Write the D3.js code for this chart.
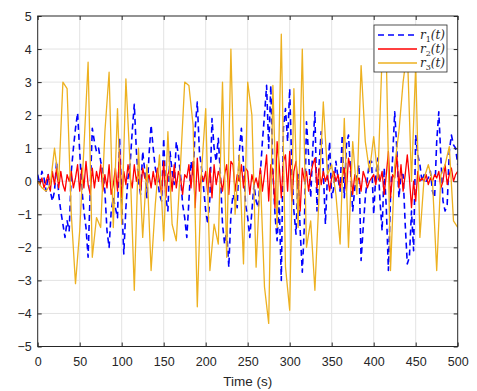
<!DOCTYPE html>
<html>
<head>
<meta charset="utf-8">
<script src="https://cdn.jsdelivr.net/npm/d3@7"></script>
<style>
  body { margin: 0; background: #fff; }
  .axis text, .xlabel { font-family: "Liberation Sans", Arial, Helvetica, sans-serif; }
  .legend text { font-family: "DejaVu Serif", "Liberation Serif", serif; font-style: italic; }
</style>
</head>
<body>
<div id="chart"></div>
<script>
"use strict";

const WIDTH = 477, HEIGHT = 391;
const PLOT = {left: 37.7, right: 457.7, top: 16, bottom: 346.5};

// sample spacing (s) of each series
const R1_STEP = 2.5, R2_STEP = 2.5, R3_STEP = 5;

const xTicks = [0, 50, 100, 150, 200, 250, 300, 350, 400, 450, 500];
const yTicks = [-5, -4, -3, -2, -1, 0, 1, 2, 3, 4, 5];

// r1(t), blue dashed
const r1 = [
  0.2, -0.1, 0.3, 0.1, -0.3, 0.2, -0.3, -0.6, -0.3, 0.6, -0.4, -0.9, -1.3, -1.7, -1.2, -1.5, 0.3, 1.0, 1.6, 2.07,
  0.9, -0.2, -0.9, -1.4, -2.3, -0.3, 1.6, 1.2, 0.9, 1.0, 0.6, 0.3, -0.3, -1.5, -2.0, -0.9, -0.5, -0.8, -1.1, 1.3,
  -0.6, -2.2, -0.8, 0.1, 0.5, 1.5, 2.33, 0.9, 0.0, -0.4, 0.9, 0.3, -0.5, 0.8, 1.7, 1.0, 0.4, 0.1, -0.4, -0.6,
  1.3, -0.5, -0.9, 0.9, 0.3, -0.1, 1.2, 0.8, 0.2, -0.7, -1.1, -1.7, -0.6, 0.6, 0.2, 1.6, 2.4, 0.9, 0.4, -0.2,
  -0.9, -1.3, -0.5, 1.9, 1.0, 0.6, 1.3, 0.2, -1.3, -1.9, -1.5, -2.6, -1.0, -0.4, -0.6, -0.8, 0.9, 1.6, 0.5, -0.7,
  -1.1, -1.7, -0.9, -0.1, -0.6, -0.8, 0.2, 1.2, 2.0, 2.9, 1.0, 2.9, 0.3, -1.0, -1.8, -0.6, -3.0, 1.6, 2.2, 1.2,
  2.8, 0.4, -0.9, -1.6, 0.2, -1.5, -2.75, -1.3, 1.8, 0.8, -0.5, 1.0, 2.1, -0.9, 0.5, 1.5, 0.3, -1.3, 0.2, 1.2,
  -0.5, -0.2, 0.6, 0.1, -0.3, 1.4, -0.5, 1.1, 1.4, 0.3, -0.9, -0.2, 0.2, 0.5, -2.4, -1.4, -0.5, 0.1, 0.6, 0.6,
  -1.0, 0.2, 0.7, -0.6, -1.5, 0.4, -0.8, -2.7, -0.5, 0.7, 2.1, 1.0, -0.5, 0.2, 0.2, -1.3, -2.5, -2.3, -0.9, -2.1,
  1.4, 0.8, 0.5, 0.0, 0.2, 0.0, 0.1, 0.3, -0.3, -0.5, 1.2, 2.1, 0.7, -0.6, -0.9, -0.7, 0.9, 1.4, 1.1, 1.0,
  0.5
];

// r2(t), red
const r2 = [
  0.0, -0.1, 0.1, -0.2, 0.0, 0.2, -0.3, 0.3, -0.1, 0.4, -0.2, 0.3, -0.1, -0.3, 0.2, 0.0, 0.3, -0.2, 0.1, 0.5,
  -0.3, 0.4, -0.2, 0.6, -0.1, -0.4, 0.4, -0.2, 0.3, 0.0, 0.5, -0.3, 0.2, -0.2, 0.5, -0.4, -0.1, 0.4, -0.3, 0.9,
  -0.5, 0.3, -0.1, 0.5, 0.1, -0.2, 0.5, 0.0, 0.3, -0.3, 0.4, 0.1, 0.0, 0.2, -0.2, 0.3, -0.1, 0.4, 0.0, -0.4,
  0.6, -0.5, 0.2, 0.4, -0.3, 0.5, -0.2, 0.3, 0.1, -0.4, 0.2, 0.1, 0.5, -0.2, 0.6, -0.8, 0.7, -0.3, 0.2, 0.0,
  0.3, -0.4, 0.4, -0.5, 0.5, -0.1, 0.3, 0.1, -0.3, 0.2, 0.5, -0.4, 0.6, 0.5, -0.3, 0.2, 0.0, 0.5, -0.2, 0.4,
  0.3, -0.4, 0.2, -0.1, 0.1, -0.2, 0.4, -0.3, 0.2, 0.8, -0.6, 0.5, 0.3, -0.8, 1.2, 0.5, -0.5, 0.6, 0.8, -0.3,
  0.9, -0.6, 0.3, 0.6, -0.1, -0.9, 0.4, 0.0, 0.3, -0.3, 0.2, 0.5, 0.7, -0.2, 0.4, -0.1, 0.3, 0.0, 0.2, -0.3,
  0.1, 0.3, 0.0, 0.2, -0.2, 0.1, 0.4, -0.3, 0.7, 0.4, -0.4, 0.2, 0.0, 0.1, -0.3, 0.3, 0.1, -0.2, 0.0, 0.1,
  0.2, -0.1, 0.3, 0.0, 0.3, -0.4, 0.2, 0.9, -0.5, 0.2, 0.1, 0.8, -0.2, 0.5, -0.3, 0.2, 0.8, 0.1, -0.8, 0.0,
  -0.6, 0.3, 0.0, 0.1, 0.0, 0.2, -0.1, 0.1, 0.0, 0.2, 0.1, 0.3, -0.2, 0.0, 0.5, -0.1, 0.2, 0.4, 0.0, 0.2,
  0.3
];

// r3(t), orange
const r3 = [
  0.0, -0.2, -0.3, -0.1, 1.0, 0.0, 3.0, 2.8, -1.0, -3.1,
  -1.5, 1.0, 3.6, -2.3, -1.1, -1.4, 1.5, 3.3, -1.4, 2.2,
  -1.3, 3.1, 0.5, -3.3, 1.0, -1.7, 0.5, -2.7, -0.7, 0.8,
  -1.8, 1.5, -1.3, -1.8, 0.5, 3.0, 2.9, 1.7, -3.8, 0.3,
  2.2, -2.7, -1.3, -1.9, 3.0, -2.3, 4.0, -1.0, 0.8, -2.5,
  3.0, 2.0, -2.6, 0.2, -3.2, -4.3, 2.9, -1.4, 4.45, -2.6,
  -3.9, 2.8, -1.4, 4.0, -2.0, -1.2, -3.3, -0.4, 2.4, 0.2,
  0.5, -0.4, -1.9, 1.9, -2.0, 1.2, -0.4, 3.5, 1.2, 0.3,
  1.35, 0.1, 3.8, 3.8, -2.7, 0.5, 1.5, 3.0, 4.0, 0.0,
  3.5, -1.7, 0.1, 0.5, 0.0, -2.7, 0.2, 0.5, 1.05, -1.2,
  -1.4
];

const series = [
  {name: "1", values: r1, step: R1_STEP, color: "#0000ff", width: 1.6, dash: "6,4"},
  {name: "2", values: r2, step: R2_STEP, color: "#ff0000", width: 1.3, dash: null},
  {name: "3", values: r3, step: R3_STEP, color: "#edb120", width: 1.3, dash: null}
];

const AXIS_COLOR = "#262626";

var svg = d3.select("#chart").append("svg")
  .attr("width", WIDTH)
  .attr("height", HEIGHT);

var xScale = d3.scaleLinear().domain([0, 500]).range([PLOT.left, PLOT.right]);
var yScale = d3.scaleLinear().domain([-5, 5]).range([PLOT.bottom, PLOT.top]);

// grid
var grid = svg.append("g").attr("stroke", "#e3e3e3").attr("stroke-width", 1);
grid.selectAll(".gx").data(xTicks.slice(1, -1)).enter().append("line")
  .attr("x1", d => xScale(d)).attr("x2", d => xScale(d))
  .attr("y1", PLOT.top).attr("y2", PLOT.bottom);
grid.selectAll(".gy").data(yTicks.slice(1, -1)).enter().append("line")
  .attr("y1", d => yScale(d)).attr("y2", d => yScale(d))
  .attr("x1", PLOT.left).attr("x2", PLOT.right);

// lines
svg.append("clipPath").attr("id", "clip").append("rect")
  .attr("x", PLOT.left).attr("y", PLOT.top)
  .attr("width", PLOT.right - PLOT.left).attr("height", PLOT.bottom - PLOT.top);

var plot = svg.append("g").attr("clip-path", "url(#clip)");
series.forEach(function(s) {
  var line = d3.line()
    .x((d, i) => xScale(i * s.step))
    .y(d => yScale(d));
  plot.append("path")
    .datum(s.values)
    .attr("fill", "none")
    .attr("stroke", s.color)
    .attr("stroke-width", s.width)
    .attr("stroke-dasharray", s.dash)
    .attr("stroke-linejoin", "round")
    .attr("d", line);
});

// axes, ticks point inward on all four sides
function styleAxis(g) {
  g.attr("class", "axis");
  g.select(".domain").remove();
  g.selectAll(".tick line").attr("stroke", AXIS_COLOR);
  g.selectAll(".tick text").attr("fill", AXIS_COLOR).attr("font-size", "12.5px");
}

svg.append("g")
  .attr("transform", `translate(0,${PLOT.bottom})`)
  .call(d3.axisBottom(xScale).tickValues(xTicks).tickSize(-4).tickPadding(10.5))
  .call(styleAxis);
svg.append("g")
  .attr("transform", `translate(0,${PLOT.top})`)
  .call(d3.axisTop(xScale).tickValues(xTicks).tickSize(-4).tickFormat(""))
  .call(styleAxis);
svg.append("g")
  .attr("transform", `translate(${PLOT.left},0)`)
  .call(d3.axisLeft(yScale).tickValues(yTicks).tickSize(-4).tickPadding(6))
  .call(styleAxis);
svg.append("g")
  .attr("transform", `translate(${PLOT.right},0)`)
  .call(d3.axisRight(yScale).tickValues(yTicks).tickSize(-4).tickFormat(""))
  .call(styleAxis);

svg.append("rect")
  .attr("x", PLOT.left).attr("y", PLOT.top)
  .attr("width", PLOT.right - PLOT.left).attr("height", PLOT.bottom - PLOT.top)
  .attr("fill", "none").attr("stroke", AXIS_COLOR).attr("stroke-width", 1);

svg.append("text")
  .attr("class", "xlabel")
  .attr("x", (PLOT.left + PLOT.right) / 2)
  .attr("y", 386)
  .attr("text-anchor", "middle")
  .attr("font-size", "13.5px")
  .attr("fill", AXIS_COLOR)
  .text("Time (s)");

// legend
var legend = svg.append("g").attr("class", "legend").attr("transform", "translate(374,25)");
legend.append("rect")
  .attr("width", 73).attr("height", 47)
  .attr("fill", "#fff").attr("stroke", AXIS_COLOR).attr("stroke-width", 0.8);
series.forEach(function(s, i) {
  var y = 10 + i * 14;
  legend.append("line")
    .attr("x1", 4).attr("x2", 43).attr("y1", y).attr("y2", y)
    .attr("stroke", s.color).attr("stroke-width", s.width)
    .attr("stroke-dasharray", s.dash);
  var t = legend.append("text")
    .attr("x", 46).attr("y", y + 4)
    .attr("font-size", "12px")
    .attr("fill", AXIS_COLOR);
  t.append("tspan").text("r");
  t.append("tspan").attr("font-size", "8px").attr("dy", 2.5).style("font-style", "normal").text(s.name);
  t.append("tspan").attr("dy", -2.5).text("(t)");
});
</script>
</body>
</html>
